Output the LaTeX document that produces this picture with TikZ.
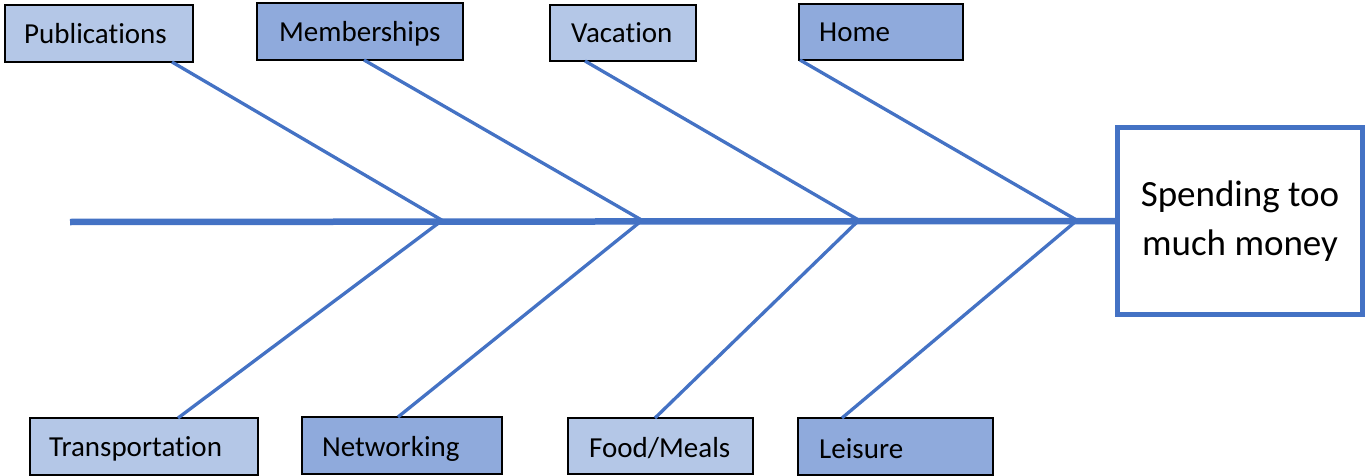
\documentclass[tikz,border=0pt]{standalone}
\usepackage{fontspec}
\setmainfont{Carlito}[Ligatures={NoCommon}]
\definecolor{lightbox}{HTML}{B4C7E7}
\definecolor{darkbox}{HTML}{8FAADC}
\definecolor{bone}{HTML}{4472C4}
\begin{document}
\begin{tikzpicture}[x=1pt,y=-1pt,
  cbox/.style={draw=black, line width=1.5pt, inner sep=0pt, outer sep=0pt, anchor=north west},
  lite/.style={cbox, fill=lightbox},
  dark/.style={cbox, fill=darkbox},
  lbl/.style={anchor=base west, inner sep=0pt, font=\fontsize{29}{34}\selectfont},
  rib/.style={draw=bone, line width=3.3pt},
  spine/.style={draw=bone, line width=6.5pt},
  effect/.style={draw=bone, line width=5pt, fill=white, inner sep=0pt, outer sep=0pt,
    minimum width=245pt, minimum height=187pt, align=center,
    font=\fontsize{37}{49}\selectfont}]
\useasboundingbox (0,0) rectangle (1367,476);
% cause boxes
\node[lite, minimum width=188pt, minimum height=57pt] (pub) at (5,5) {};
\node[dark, minimum width=206pt, minimum height=57pt] (mem) at (257,3) {};
\node[lite, minimum width=146pt, minimum height=56pt] (vac) at (550,5) {};
\node[dark, minimum width=164pt, minimum height=56pt] (home) at (799,4) {};
\node[lite, minimum width=228pt, minimum height=57pt] (trans) at (30,418) {};
\node[dark, minimum width=200pt, minimum height=57pt] (net) at (302,417) {};
\node[lite, minimum width=185pt, minimum height=56pt] (food) at (568,418) {};
\node[dark, minimum width=195pt, minimum height=57pt] (leis) at (798,418) {};
% labels
\node[lbl] (tpub) at (24,44) {Publications};
\node[lbl] (tmem) at (279,42) {Memberships};
\node[lbl] (tvac) at (571,43) {Vacation};
\node[lbl] (thome) at (819,42) {Home};
\node[lbl] (ttrans) at (49,456) {Transportation};
\node[lbl] (tnet) at (322,456) {Networking};
\node[lbl] (tfood) at (589,457) {Food/Meals};
\node[lbl] (tleis) at (819,458) {Leisure};
% effect
\node[effect] (eff) at (1240,221) {Spending too\\much money};
% spine
\coordinate (tail) at (70,222);
\draw[spine] (tail) -- (eff.west);
% joints
\coordinate (a1) at (445,222);
\coordinate (a2) at (645,222);
\coordinate (a3) at (862,222);
\coordinate (a4) at (1080,222);
\coordinate (b1) at (440,222);
\coordinate (b2) at (640,222);
\coordinate (b3) at (857,222);
\coordinate (b4) at (1075,222);
% ribs
\draw[rib] ([xshift=167pt]pub.south west) -- (a1);
\draw[rib] ([xshift=107pt]mem.south west) -- (a2);
\draw[rib] ([xshift=35pt]vac.south west) -- (a3);
\draw[rib] ([xshift=1pt]home.south west) -- (a4);
\draw[rib] ([xshift=148pt]trans.north west) -- (b1);
\draw[rib] ([xshift=96pt]net.north west) -- (b2);
\draw[rib] ([xshift=87pt]food.north west) -- (b3);
\draw[rib] ([xshift=44pt]leis.north west) -- (b4);
\end{tikzpicture}
\end{document}
